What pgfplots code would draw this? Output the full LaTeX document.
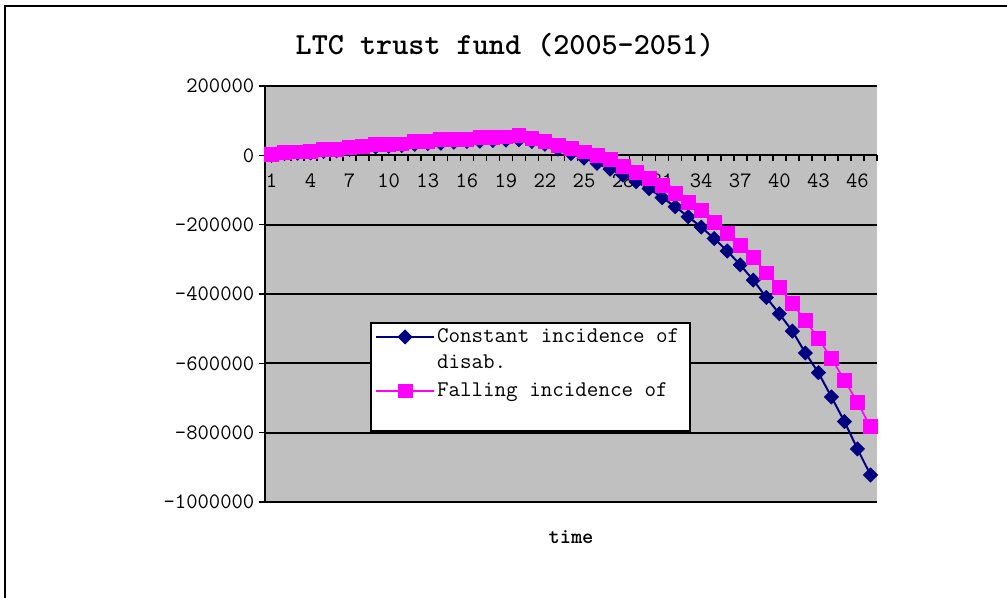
\documentclass[border=0pt]{standalone}
\usepackage{pgfplots}
\usepackage{pgfplotstable}
\pgfplotsset{compat=1.18}
\definecolor{plotgray}{RGB}{192,192,192}
\definecolor{navyblue}{RGB}{0,0,128}
\definecolor{magentapink}{RGB}{255,0,255}

% t = year index (1 = 2005)
\pgfplotstableread{
t  constant  falling
1  0         2000
2  5000      9000
3  6000      10000
4  7000      11000
5  11000     16000
6  13000     18000
7  17000     24000
8  20000     25000
9  24000     31000
10 26000     32000
11 28000     33000
12 32000     39000
13 34000     41000
14 35000     45000
15 38000     46000
16 40000     47000
17 41000     51000
18 43000     52000
19 44000     53000
20 45000     57000
21 40000     50000
22 32000     41000
23 18000     28000
24 5000      20000
25 -8000     10000
26 -23000    0
27 -40000    -12000
28 -57000    -33000
29 -76000    -48000
30 -96000    -67000
31 -122000   -87000
32 -148000   -110000
33 -177000   -135000
34 -207000   -159000
35 -240000   -193000
36 -276000   -226000
37 -316000   -259000
38 -360000   -294000
39 -410000   -339000
40 -457000   -381000
41 -507000   -427000
42 -570000   -477000
43 -627000   -528000
44 -697000   -586000
45 -768000   -648000
46 -847000   -713000
47 -922000   -783000
}\ltcdata

\begin{document}
\begin{tikzpicture}
\useasboundingbox (0,0) rectangle (755.25pt,447.75pt);
% chart area frame (cut off at right and bottom)
\draw[line width=1.5pt] (3.75pt,-10pt) -- (3.75pt,443.25pt) -- (770pt,443.25pt);
\node[font=\ttfamily\bfseries\fontsize{23}{27}\selectfont] at (378.75pt,414pt) {LTC trust fund (2005-2051)};

\begin{axis}[
  at={(198.75pt,71.25pt)}, anchor=south west,
  scale only axis, width=459pt, height=312pt,
  xmin=0.5, xmax=47.5, ymin=-1000000, ymax=200000,
  axis x line=middle, axis y line=left,
  axis line style={-, line width=1.5pt},
  axis background/.style={fill=plotgray},
  ytick={-1000000,-800000,...,200000},
  ymajorgrids, grid style={black, line width=1.5pt},
  xtick={0.5,1.5,...,47.5}, xticklabels={},
  extra x ticks={1,4,...,46},
  extra x tick labels={1,4,7,10,13,16,19,22,25,28,31,34,37,40,43,46},
  extra x tick style={major tick length=0pt, grid=none,
    xticklabel style={yshift=-10pt}},
  tick align=outside,
  major tick length=4.5pt,
  tick style={black, line width=1.2pt},
  scaled y ticks=false,
  yticklabel style={/pgf/number format/fixed,
    /pgf/number format/1000 sep={},
    /pgf/number format/assume math mode=true},
  ticklabel style={font=\ttfamily\fontsize{16.5}{19}\selectfont},
  xlabel={time},
  xlabel style={font=\ttfamily\bfseries\fontsize{16}{19}\selectfont,
    at={(axis description cs:0.5,-0.084)}, anchor=center},
  legend style={at={(axis description cs:0.1716,0.4327)}, anchor=north west,
    draw=black, line width=1.5pt, fill=white,
    font=\ttfamily\fontsize{16.8}{19.5}\selectfont,
    inner xsep=3pt, inner ysep=3pt, row sep=6pt,
    cells={align=left}, nodes={inner sep=1.5pt}},
  legend cell align=left,
  legend image code/.code={
    \draw[mark repeat=2,mark phase=2,yshift=9.75pt,#1] plot coordinates {(0pt,0pt) (21.75pt,0pt) (43.5pt,0pt)};},
]
\addplot[navyblue, line width=1.5pt, mark=square*, mark size=3.7pt,
  mark options={rotate=45, solid, line width=0.6pt}]
  table[x=t, y=constant] {\ltcdata};
\addlegendentry{Constant incidence of\hspace*{3.5pt}\\disab.}
\addplot[magentapink, line width=1.2pt, mark=square*, mark size=5.2pt,
  mark options={solid, line width=0.6pt}]
  table[x=t, y=falling] {\ltcdata};
\addlegendentry{Falling incidence of\\\phantom{disab.}}
\end{axis}
\end{tikzpicture}
\end{document}
